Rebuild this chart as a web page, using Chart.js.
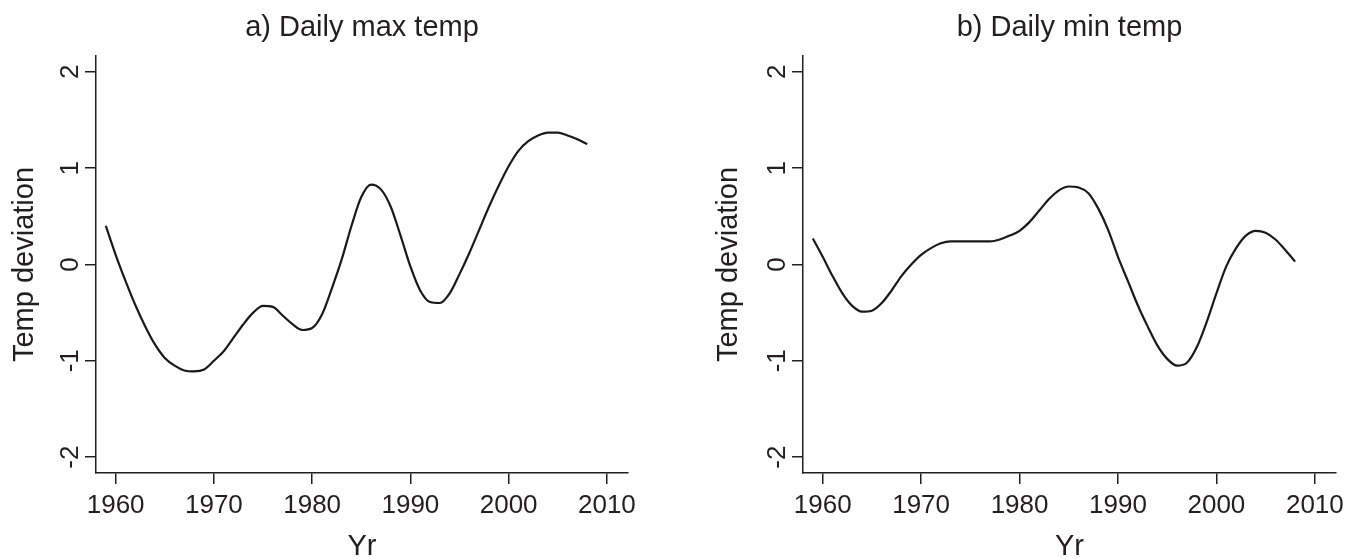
<!DOCTYPE html>
<html>
<head>
<meta charset="utf-8">
<script src="https://cdn.jsdelivr.net/npm/chart.js@4.4.1/dist/chart.umd.min.js"></script>
<style>
  html, body { margin: 0; padding: 0; background: #fff; overflow: hidden; }
  .panel { position: absolute; top: 0; height: 559px; }
</style>
</head>
<body>
<div class="panel" style="left:0;width:680px;"><canvas id="chartMax" width="680" height="559"></canvas></div>
<div class="panel" style="left:680px;width:679px;"><canvas id="chartMin" width="679" height="559"></canvas></div>
<script>
// datos (desviacion suavizada, por anio)
var years = [1959, 1960, 1961, 1962, 1963, 1964, 1965, 1966, 1967, 1968,
             1969, 1970, 1971, 1972, 1973, 1974, 1975, 1976, 1977, 1978,
             1979, 1980, 1981, 1982, 1983, 1984, 1985, 1986, 1987, 1988,
             1989, 1990, 1991, 1992, 1993, 1994, 1995, 1996, 1997, 1998,
             1999, 2000, 2001, 2002, 2003, 2004, 2005, 2006, 2007, 2008];

var maxTemp = [0.40, 0.10, -0.17, -0.42, -0.64, -0.83, -0.97, -1.05, -1.10, -1.11,
               -1.09, -1.00, -0.90, -0.76, -0.62, -0.50, -0.43, -0.44, -0.53, -0.62,
               -0.68, -0.66, -0.52, -0.25, 0.05, 0.40, 0.70, 0.83, 0.78, 0.60,
               0.30, -0.02, -0.27, -0.39, -0.40, -0.30, -0.10, 0.12, 0.36, 0.60,
               0.82, 1.02, 1.18, 1.28, 1.34, 1.37, 1.37, 1.34, 1.30, 1.25];

var minTemp = [0.27, 0.08, -0.12, -0.30, -0.43, -0.49, -0.48, -0.40, -0.27, -0.12,
               0.00, 0.10, 0.17, 0.22, 0.24, 0.24, 0.24, 0.24, 0.24, 0.26,
               0.30, 0.35, 0.44, 0.56, 0.68, 0.77, 0.81, 0.80, 0.74, 0.58,
               0.36, 0.08, -0.17, -0.42, -0.64, -0.84, -0.98, -1.05, -1.02, -0.86,
               -0.60, -0.30, -0.02, 0.17, 0.30, 0.35, 0.33, 0.26, 0.15, 0.03];

var xTicks = [1960, 1970, 1980, 1990, 2000, 2010];
var yTicks = [-2, -1, 0, 1, 2];

var INK = "#231f20";
var FONT = "'Liberation Sans', Arial, sans-serif";

function toPoints(vals){
  return vals.map(function(v, i){ return { x: years[i], y: v }; });
}

function makeChart(id, title, vals, yAxisWidth, padRight, yTitlePad){
  return new Chart(document.getElementById(id), {
    type: "line",
    data: {
      datasets: [{
        data: toPoints(vals),
        borderColor: "#1a1a1a",
        borderWidth: 2.2,
        pointRadius: 0,
        cubicInterpolationMode: "monotone",
        fill: false
      }]
    },
    options: {
      responsive: false,
      animation: false,
      devicePixelRatio: 1,
      layout: { padding: { left: 0, right: padRight, top: 0, bottom: 0 } },
      plugins: {
        legend: { display: false },
        tooltip: { enabled: false },
        title: {
          display: true,
          text: title,
          fullSize: false,
          color: INK,
          font: { family: FONT, size: 29, weight: "normal", lineHeight: 1.2 },
          padding: { top: 10.6, bottom: 10.6 }
        }
      },
      scales: {
        x: {
          type: "linear",
          min: 1958,
          max: 2012.15,
          afterBuildTicks: function(scale){
            scale.ticks = xTicks.map(function(v){ return { value: v }; });
          },
          afterFit: function(scale){ scale.height = 86; },
          ticks: {
            color: INK,
            font: { family: FONT, size: 26 },
            padding: 6.4,
            callback: function(v){ return String(v); }
          },
          grid: { drawOnChartArea: false, drawTicks: true, tickLength: 11, color: INK, lineWidth: 1.5 },
          border: { display: true, color: INK, width: 1.5 },
          title: {
            display: true,
            text: "Yr",
            color: INK,
            font: { family: FONT, size: 29, lineHeight: 0.8 },
            padding: { top: 0, bottom: 0 }
          }
        },
        y: {
          min: -2.165,
          max: 2.165,
          afterBuildTicks: function(scale){
            scale.ticks = yTicks.map(function(v){ return { value: v }; });
          },
          afterFit: function(scale){ scale.width = yAxisWidth; },
          ticks: {
            color: INK,
            font: { family: FONT, size: 26 },
            minRotation: 90,
            maxRotation: 90,
            crossAlign: "center",
            padding: 3,
            callback: function(v){ return String(v); }
          },
          grid: { drawOnChartArea: false, drawTicks: true, tickLength: 11, color: INK, lineWidth: 1.5 },
          border: { display: true, color: INK, width: 1.5 },
          title: {
            display: true,
            text: "Temp deviation",
            color: INK,
            font: { family: FONT, size: 29, lineHeight: 1 },
            padding: { top: yTitlePad, bottom: 0 }
          }
        }
      }
    }
  });
}

makeChart("chartMax", "a) Daily max temp", maxTemp, 96, 52, 10);
makeChart("chartMin", "b) Daily min temp", minTemp, 123, 23, 34.5);
</script>
</body>
</html>
